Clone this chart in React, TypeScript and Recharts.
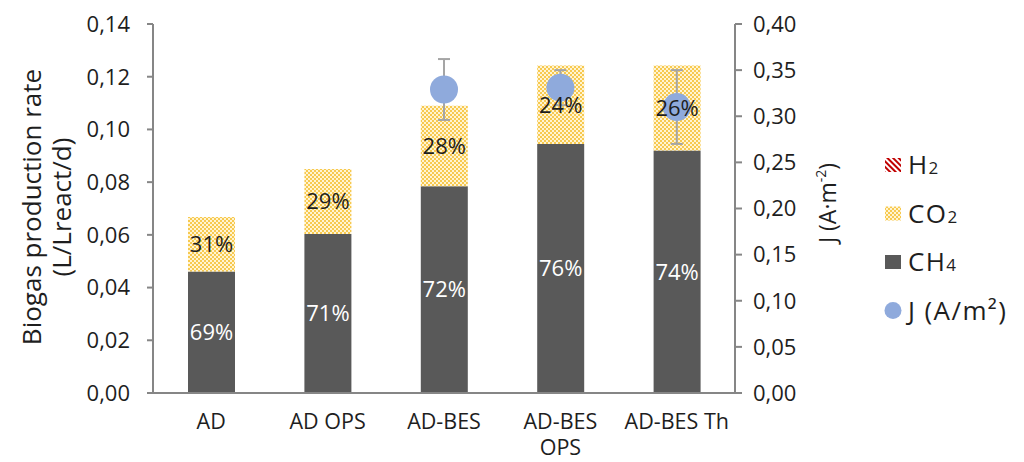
import React from 'react';
import {
  ComposedChart,
  Bar,
  Scatter,
  XAxis,
  YAxis,
  Legend,
  LabelList,
  ErrorBar,
} from 'recharts';

// Biogas rate per reactor and its composition (% of total)
const categories = ['AD', 'AD OPS', 'AD-BES', 'AD-BES\nOPS', 'AD-BES Th'];
const biogasRate = [0.0668, 0.085, 0.109, 0.1243, 0.1243];
const ch4Pct = [69, 71, 72, 76, 74];
const co2Pct = [31, 29, 28, 24, 26];
const h2Pct = [0, 0, 0, 0, 0];

// Current density (right axis), only for the BES reactors
const currentJ = [null, null, 0.329, 0.331, 0.31];
const currentJErr = [null, null, 0.033, 0.019, 0.04];

const leftTicks = [0, 0.02, 0.04, 0.06, 0.08, 0.1, 0.12, 0.14];
const rightTicks = [0, 0.05, 0.1, 0.15, 0.2, 0.25, 0.3, 0.35, 0.4];

const data = categories.map((name, i) => ({
  name,
  ch4: (biogasRate[i] * ch4Pct[i]) / 100,
  co2: (biogasRate[i] * co2Pct[i]) / 100,
  h2: (biogasRate[i] * h2Pct[i]) / 100,
  ch4Pct: ch4Pct[i],
  co2Pct: co2Pct[i],
  j: currentJ[i],
  jErr: currentJErr[i],
}));

const FONT = '"Open Sans", sans-serif';
const AXIS = '#868686';
const TEXT = '#1e1e1e';
const CH4_COLOR = '#595959';
const J_COLOR = '#8faadc';

const comma = (v: number) => v.toFixed(2).replace('.', ',');

const PatternDefs = ({ suffix }: { suffix: string }) => (
  <defs>
    <pattern id={`co2-${suffix}`} width="4" height="4" patternUnits="userSpaceOnUse">
      <rect width="4" height="4" fill="#fff4d2" />
      <rect width="2" height="2" fill="#f7c94f" />
      <rect x="2" y="2" width="2" height="2" fill="#f7c94f" />
    </pattern>
    <pattern id={`h2-${suffix}`} width="4" height="4" patternUnits="userSpaceOnUse" patternTransform="rotate(-45)">
      <rect width="4" height="4" fill="#ffffff" />
      <rect width="2" height="4" fill="#c00000" />
    </pattern>
  </defs>
);

// category labels, wrapped on '\n'
const XTick = (props: any) => {
  const { x, y, payload } = props;
  const lines = String(payload.value).split('\n');
  return (
    <g>
      {lines.map((l, i) => (
        <text key={i} x={x} y={y + 36 + i * 26} textAnchor="middle" fill={TEXT} fontSize={21.5} fontFamily={FONT}>
          {l}
        </text>
      ))}
    </g>
  );
};

const LeftTitle = () => (
  <text transform="translate(41,207) rotate(-90)" textAnchor="middle" fill={TEXT} fontSize={26} fontFamily={FONT}>
    <tspan x={0} dy={0}>Biogas production rate</tspan>
    <tspan x={0} dy={30}>(L/Lreact/d)</tspan>
  </text>
);

const RightTitle = () => (
  <text transform="translate(836,203) rotate(-90)" textAnchor="middle" fill={TEXT} fontSize={23} fontFamily={FONT}>
    J (A·m<tspan fontSize={14} dy={-10}>-2</tspan>
    <tspan dy={10}>)</tspan>
  </text>
);

const JDot = (props: any) => {
  if (props.payload == null || props.payload.j == null) return <g />;
  return <circle cx={props.cx} cy={props.cy} r={14} fill={J_COLOR} />;
};

const LegendBox = () => {
  const rows = [
    { key: 'h2', sub: '2', main: 'H' },
    { key: 'co2', sub: '2', main: 'CO' },
    { key: 'ch4', sub: '4', main: 'CH' },
    { key: 'j', sub: '', main: 'J (A/m²)' },
  ];
  return (
    <svg width={156} height={200} style={{ overflow: 'visible' }}>
      <PatternDefs suffix="legend" />
      {rows.map((r, i) => {
        const cy = 25 + i * 48.5;
        let icon;
        if (r.key === 'h2') icon = <rect x={17} y={cy - 7} width={16} height={14} fill="url(#h2-legend)" />;
        else if (r.key === 'co2') icon = <rect x={17} y={cy - 7} width={16} height={14} fill="url(#co2-legend)" />;
        else if (r.key === 'ch4') icon = <rect x={17} y={cy - 7} width={16} height={14} fill={CH4_COLOR} />;
        else icon = <circle cx={25} cy={cy} r={8.5} fill={J_COLOR} />;
        return (
          <g key={r.key}>
            {icon}
            <text x={40} y={cy + 9} fill={TEXT} fontSize={26} letterSpacing={1.4} fontFamily={FONT}>
              {r.main}
              {r.sub && <tspan fontSize={17} letterSpacing={0}>{r.sub}</tspan>}
            </text>
          </g>
        );
      })}
    </svg>
  );
};

export default function App() {
  return (
    <div style={{ position: 'absolute', left: 0, top: 0, width: 1024, height: 462, background: '#fff', fontFamily: FONT }}>
      <ComposedChart width={1024} height={462} data={data} margin={{ top: 24, right: 0, bottom: 0, left: 0 }}>
        <PatternDefs suffix="chart" />
        <XAxis
          dataKey="name"
          height={69}
          tick={<XTick />}
          tickLine={false}
          tickSize={0}
          tickMargin={0}
          axisLine={{ stroke: AXIS, strokeWidth: 2 }}
          interval={0}
        />
        <YAxis
          yAxisId="left"
          width={153}
          domain={[0, 0.14]}
          ticks={leftTicks}
          tickFormatter={comma}
          tick={{ fill: TEXT, fontSize: 22, fontFamily: FONT }}
          tickSize={6}
          tickMargin={17}
          axisLine={{ stroke: AXIS, strokeWidth: 2 }}
          tickLine={{ stroke: AXIS, strokeWidth: 2 }}
          allowDataOverflow
        />
        <YAxis
          yAxisId="right"
          orientation="right"
          width={289}
          domain={[0, 0.4]}
          ticks={rightTicks}
          tickFormatter={comma}
          tick={{ fill: TEXT, fontSize: 22, fontFamily: FONT }}
          tickSize={7}
          tickMargin={11}
          axisLine={{ stroke: AXIS, strokeWidth: 2 }}
          tickLine={{ stroke: AXIS, strokeWidth: 2 }}
        />
        <Bar yAxisId="left" dataKey="ch4" stackId="gas" fill={CH4_COLOR} barSize={47} isAnimationActive={false}>
          <LabelList dataKey="ch4Pct" position="center" formatter={(v: any) => `${v}%`} fill="#ffffff" fontSize={22} fontFamily={FONT} />
        </Bar>
        <Bar yAxisId="left" dataKey="co2" stackId="gas" fill="url(#co2-chart)" barSize={47} isAnimationActive={false}>
          <LabelList dataKey="co2Pct" position="center" formatter={(v: any) => `${v}%`} fill={TEXT} fontSize={22} fontFamily={FONT} />
        </Bar>
        <Bar yAxisId="left" dataKey="h2" stackId="gas" fill="url(#h2-chart)" barSize={47} isAnimationActive={false} />
        <Scatter yAxisId="right" dataKey="j" shape={<JDot />} isAnimationActive={false}>
          <ErrorBar dataKey="jErr" direction="y" width={6} stroke="#a5a5a5" strokeWidth={2} isAnimationActive={false} />
        </Scatter>
        <Legend
          layout="vertical"
          align="center"
          verticalAlign="middle"
          content={<LegendBox />}
          wrapperStyle={{ left: 868, top: 140, width: 156, height: 200 }}
        />
        <LeftTitle />
        <RightTitle />
      </ComposedChart>
    </div>
  );
}
